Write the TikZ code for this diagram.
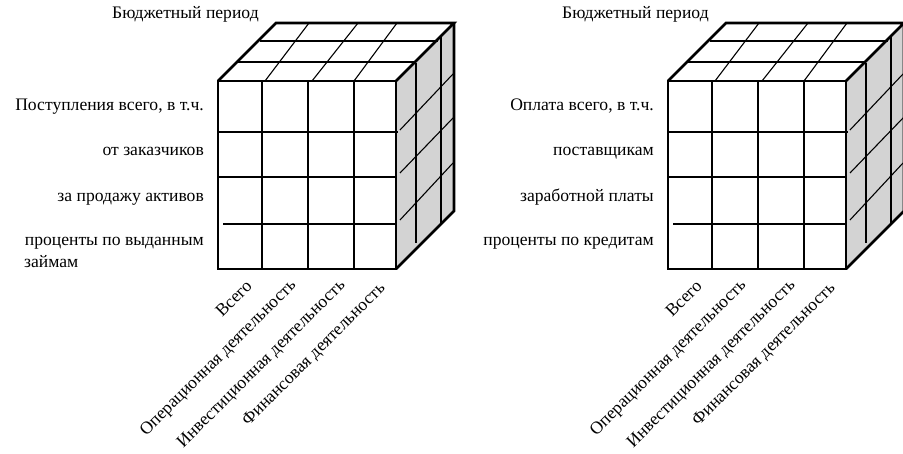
\documentclass[tikz,border=0pt]{standalone}
\usepackage{fontspec}
\setmainfont{Liberation Serif}
\newfontfamily\tnr{Liberation Serif}
\definecolor{facegray}{RGB}{211,211,211}
\tikzset{
  edge/.style={line width=2.6pt, line join=miter},
  grid/.style={line width=1.1pt},
  lbl/.style={font=\tnr\fontsize{17.6}{20}\selectfont, inner sep=0pt},
  rlbl/.style={lbl, anchor=east, rotate=45}
}
\newcommand{\drawcube}{%
  % right face
  \fill[facegray] (396,81) -- (454,23) -- (454,211) -- (396,269) -- cycle;
  % top face
  \fill[white] (218,81) -- (276,23) -- (454,23) -- (396,81) -- cycle;
  % front grid
  \draw[grid] (262,81) -- (262,269) (308,81) -- (308,269) (354,81) -- (354,269);
  \draw[grid] (218,132) -- (398,132) (218,177) -- (396,177) (223,224) -- (396,224);
  % top grid
  \draw[grid] (260,41) -- (438,41) (238,62) -- (415,62);
  \draw[grid] (265,81) -- (309,23) (312,81) -- (358,23) (354,81) -- (397,23);
  % right grid
  \draw[grid] (416,63) -- (416,243) (441,36) -- (441,223);
  \draw[grid] (400,130) -- (453,74) (400,173) -- (453,118) (400,220) -- (453,163);
  % outline
  \draw[edge] (218,81) rectangle (396,269);
  \draw[edge] (218,81) -- (276,23) -- (454,23) -- (396,81);
  \draw[edge] (454,23) -- (454,211) -- (396,269);
  % column labels
  \node[rlbl] at (249,283) {Всего};
  \node[rlbl] at (294,283) {Операционная деятельность};
  \node[rlbl] at (343,283) {Инвестиционная деятельность};
  \node[rlbl] at (383,286) {Финансовая деятельность};
  \node[lbl, anchor=base west] at (112,19) {Бюджетный период};
}
\begin{document}
\begin{tikzpicture}[x=1pt, y=-1pt]
\useasboundingbox (0,0) rectangle (903,454);
\begin{scope}
  \drawcube
  \node[lbl, anchor=base east] (l1) at (204,111) {Поступления всего, в т.ч.};
  \node[lbl, anchor=base east] (l2) at (204,156) {от заказчиков};
  \node[lbl, anchor=base east] (l3) at (204,202) {за продажу активов};
  \node[lbl, anchor=base east] (l4) at (204,246) {проценты по выданным};
  \node[lbl, anchor=base west] (l5) at (24,268) {займам};
\end{scope}
\begin{scope}[xshift=450pt]
  \drawcube
  \node[lbl, anchor=base east] (r1) at (204,111) {Оплата всего, в т.ч.};
  \node[lbl, anchor=base east] (r2) at (204,156) {поставщикам};
  \node[lbl, anchor=base east] (r3) at (204,202) {заработной платы};
  \node[lbl, anchor=base east] (r4) at (204,246) {проценты по кредитам};
\end{scope}
\end{tikzpicture}
\end{document}
